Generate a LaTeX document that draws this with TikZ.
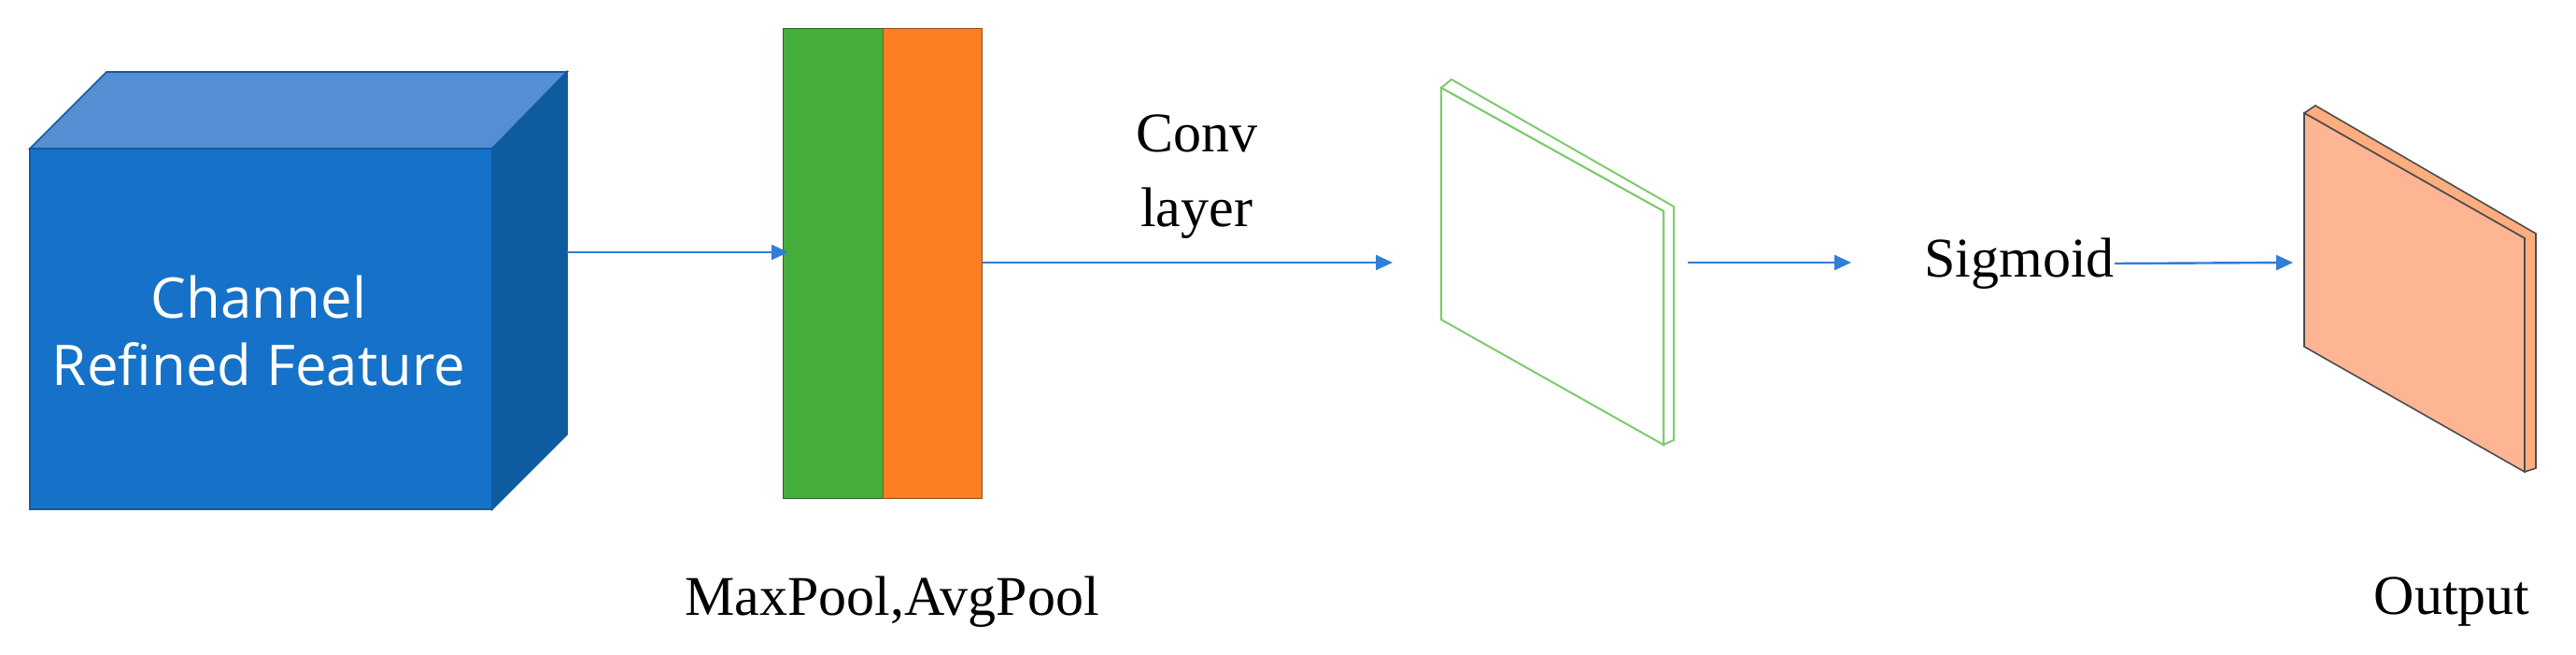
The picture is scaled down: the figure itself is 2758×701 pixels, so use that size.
\documentclass[tikz,border=0pt]{standalone}
\usepackage{fontspec}
\setmainfont{Liberation Serif}
\newfontfamily\labelsans{Open Sans}
\usetikzlibrary{arrows.meta}
\definecolor{cubefront}{HTML}{1572C8}
\definecolor{cubetop}{HTML}{548ED3}
\definecolor{cubeside}{HTML}{0F5BA0}
\definecolor{poolgreen}{HTML}{45AE3A}
\definecolor{poolorange}{HTML}{FC7E22}
\definecolor{convgreen}{HTML}{7DCB6C}
\definecolor{outfill}{HTML}{FDB594}
\definecolor{flowblue}{HTML}{2F7ED8}
\begin{document}
\begin{tikzpicture}[
    x = 0.5pt, y = -0.5pt,
    flow/.style = {draw = flowblue, line width = 1.2pt, -{Triangle[length=9pt, width=8pt]}},
    caption/.style = {font = \fontsize{30}{36}\selectfont, inner sep = 0pt},
    cube/.style = {draw = cubefront!80!black, line width = 0.8pt}
  ]
  \useasboundingbox (0,0) rectangle (2758,701);
  % Cube
  \fill[cubetop, cube] (32,159) -- (114,77) -- (607,77) -- (527,159) -- cycle;
  \fill[cubeside, cube] (527,159) -- (607,77) -- (607,465) -- (527,545) -- cycle;
  \fill[cubefront, cube] (32,159) rectangle (527,545);
  \node[font = \labelsans\fontsize{30}{36}\selectfont, text = white, align = center] (feat) at (277,354) {Channel\\Refined Feature};
  \coordinate (featout) at (607,270);
  % Pooling bar
  \node[fill = poolgreen, draw = poolgreen!60!black, minimum width = 107\pgflinewidth, inner sep = 0pt,
        minimum width = 53.5pt, minimum height = 251.5pt, anchor = north west] (maxp) at (838,30) {};
  \node[fill = poolorange, draw = poolorange!60!black, inner sep = 0pt,
        minimum width = 53pt, minimum height = 251.5pt, anchor = north west] (avgp) at (945,30) {};
  \node[caption] (poollbl) at (955,644) {MaxPool,AvgPool};
  % Conv plate
  \draw[convgreen, line width = 1pt, fill = white] (1543,94) -- (1554,85) -- (1792,221) -- (1792,471) -- (1781,476) -- (1781,226) -- cycle;
  \draw[convgreen, line width = 1pt, fill = white] (1543,94) -- (1781,226) -- (1781,476) -- (1543,342) -- cycle;
  \coordinate (convin) at (1491,281);
  \coordinate (convout) at (1807,281);
  \coordinate (sigin) at (1982,281);
  \node[caption, align = center] (convlbl) at (1281,189) {Conv\\[4pt]layer};
  \node[caption] (sig) at (2162,282) {Sigmoid};
  % Output plate
  \draw[black!70, line width = 0.8pt, fill = outfill!85!orange] (2467,121) -- (2479,113) -- (2715,250) -- (2715,501) -- (2703,505) -- (2703,255) -- cycle;
  \draw[black!70, line width = 0.8pt, fill = outfill] (2467,121) -- (2703,255) -- (2703,505) -- (2467,371) -- cycle;
  \coordinate (outin) at (2455,281);
  \node[caption] (outlbl) at (2625,644) {Output};
  % Arrows
  \draw[flow] (featout) -- (844,270);
  \draw[flow] (avgp.east |- convin) -- (convin);
  \draw[flow] (convout) -- (sigin);
  \draw[flow] (sig.east) -- (outin);
\end{tikzpicture}
\end{document}
